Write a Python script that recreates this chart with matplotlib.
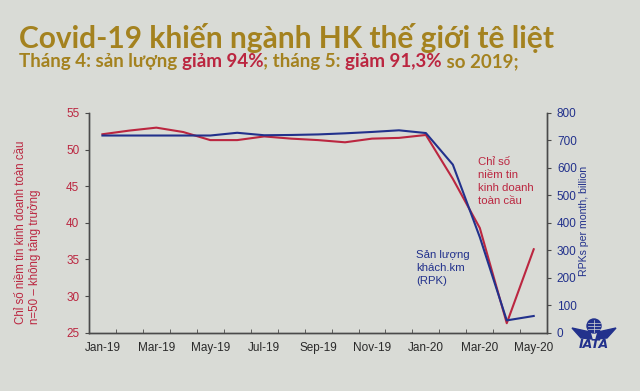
import matplotlib
matplotlib.use('Agg')
import matplotlib.pyplot as plt
from matplotlib.patches import Ellipse, Polygon
import numpy as np

months = ['Jan-19', 'Feb-19', 'Mar-19', 'Apr-19', 'May-19', 'Jun-19', 'Jul-19', 'Aug-19',
          'Sep-19', 'Oct-19', 'Nov-19', 'Dec-19', 'Jan-20', 'Feb-20', 'Mar-20', 'Apr-20', 'May-20']
# global business confidence index (left axis)
confidence = [52.1, 52.6, 53.0, 52.4, 51.3, 51.3, 51.8, 51.5, 51.3, 51.0, 51.5, 51.6, 52.0,
              46.0, 39.3, 26.3, 36.4]
# RPKs per month, billion (right axis)
rpk = [718, 718, 718, 718, 718, 728, 719, 720, 722, 726, 731, 737, 727, 612, 348, 45, 61]

BG = '#d9dbd6'
RED = '#bb2640'
BLUE = '#22318c'
GOLD = '#a4821f'
AX = '#4a4a4a'

W, H = 640, 391


def px(x, y):
    # pixel position -> figure fraction
    return (x / W, 1 - y / H)


plt.rcParams['font.family'] = ['Liberation Sans', 'DejaVu Sans']

fig = plt.figure(figsize=(6.4, 3.91), dpi=100, facecolor=BG)
ax = fig.add_axes([0.139, 0.149, 0.716, 0.562])
ax.set_facecolor(BG)
ax2 = ax.twinx()

x = np.arange(len(months))
ax.plot(x, confidence, color=RED, lw=1.5, zorder=3)
ax2.plot(x, rpk, color=BLUE, lw=1.5, zorder=2)

ax.set_xlim(-0.5, len(months) - 0.5)
ax.set_ylim(25, 55)
ax.set_yticks(range(25, 56, 5))
ax2.set_ylim(0, 800)
ax2.set_yticks(range(0, 801, 100))

# category axis: tick marks at boundaries, labels every other month
ax.set_xticks(x[::2])
ax.set_xticklabels(months[::2])
ax.set_xticks(np.arange(-0.5, len(months)), minor=True)
ax.tick_params(axis='x', which='major', length=0, pad=7, labelsize=8.5, labelcolor='#2a2a2a')
ax.tick_params(axis='x', which='minor', direction='in', length=3, color=AX)
ax.tick_params(axis='y', length=3, color=AX, labelsize=8.5, labelcolor=RED, pad=4)
ax2.tick_params(axis='y', length=3, color=AX, labelsize=8.5, labelcolor=BLUE, pad=4)

for a in (ax, ax2):
    a.spines['top'].set_visible(False)
    for s in ('left', 'right', 'bottom'):
        a.spines[s].set_color(AX)
        a.spines[s].set_linewidth(1.0)

fig.text(*px(28, 324), 'Chỉ số niềm tin kinh doanh toàn cầu\nn=50 – không tăng trưởng',
         color=RED, fontsize=8.3, rotation=90, ha='center', va='bottom',
         multialignment='left', linespacing=1.05)
fig.text(*px(584, 221), 'RPKs per month, billion', color=BLUE, fontsize=7.6,
         rotation=90, ha='center', va='center')

ax.text(13.95, 49.0, 'Chỉ số\nniềm tin\nkinh doanh\ntoàn cầu', color=RED, fontsize=8.2,
        va='top', ha='left', linespacing=1.38)
ax.text(11.65, 36.3, 'Sản lượng\nkhách.km\n(RPK)', color=BLUE, fontsize=8.2,
        va='top', ha='left', linespacing=1.38)

# titles
fig.text(*px(19, 38), 'Covid-19 khiến ngành HK thế giới tê liệt', color=GOLD,
         fontsize=21.5, fontweight='bold', family=['Lato', 'DejaVu Sans'], va='center')
parts = [('Tháng 4: sản lượng ', GOLD), ('giảm 94%', RED), ('; tháng 5: ', GOLD),
         ('giảm 91,3%', RED), (' so 2019;', GOLD)]
fig.canvas.draw()
renderer = fig.canvas.get_renderer()
xpos = 19 / W
for txt, col in parts:
    t = fig.text(xpos, 1 - 62 / H, txt, color=col, fontsize=13.5, fontweight='bold',
                 family=['Lato', 'DejaVu Sans'], va='center')
    bb = t.get_window_extent(renderer=renderer)
    xpos += bb.width / fig.bbox.width

# IATA logo
gx, gy = 594, 326
fig.patches.append(Ellipse(px(gx, gy), 14 / W, 14 / H, transform=fig.transFigure,
                           color=BLUE, zorder=5, figure=fig))
for dy in (-3, 0, 3):
    fig.lines.append(plt.Line2D([(gx - 6) / W, (gx + 6) / W], [1 - (gy + dy) / H] * 2,
                                transform=fig.transFigure, color=BG, lw=0.5, zorder=6))
fig.lines.append(plt.Line2D([gx / W] * 2, [1 - (gy - 6) / H, 1 - (gy + 6) / H],
                            transform=fig.transFigure, color=BG, lw=0.5, zorder=6))
wing_l = [px(572, 328), px(590, 332), px(592, 339), px(581, 338)]
wing_r = [px(2 * gx - p[0] * W, (1 - p[1]) * H) for p in wing_l]
for w in (wing_l, wing_r):
    fig.patches.append(Polygon(w, closed=True, transform=fig.transFigure, color=BLUE,
                               zorder=5, figure=fig))
fig.text(*px(594, 344), 'IATA', color=BLUE, fontsize=9, fontweight='bold', style='italic',
         family=['DejaVu Sans'], ha='center', va='center')

fig.savefig('out.png', dpi=100, facecolor=BG)
